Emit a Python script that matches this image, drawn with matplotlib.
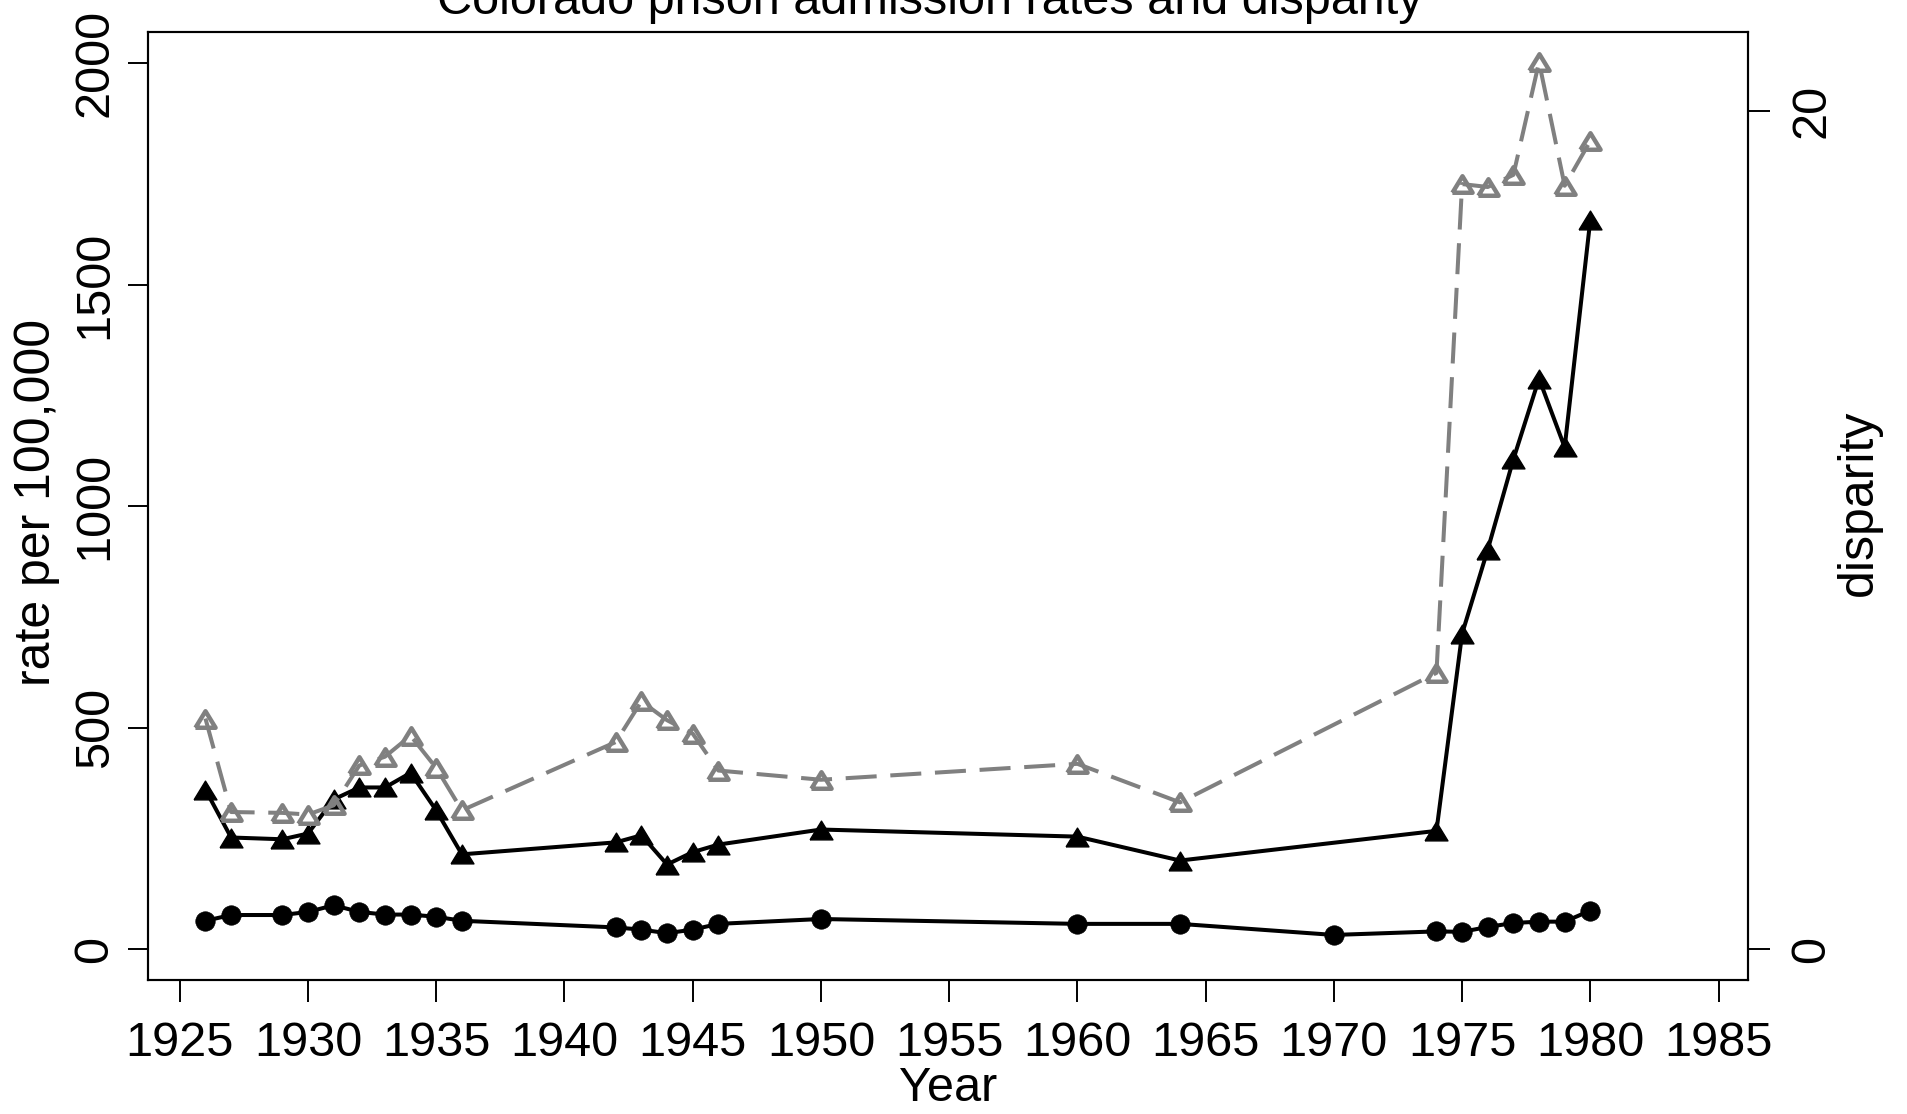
import matplotlib
matplotlib.use("Agg")
import matplotlib.pyplot as plt

plt.rcParams['font.family'] = ['Liberation Sans', 'DejaVu Sans']

# ---- data ----
years_white = [1926, 1927, 1929, 1930, 1931, 1932, 1933, 1934, 1935, 1936,
               1942, 1943, 1944, 1945, 1946, 1950, 1960, 1964, 1970,
               1974, 1975, 1976, 1977, 1978, 1979, 1980]
white_rate = [64, 77, 77, 84, 99, 84, 78, 78, 73, 64,
              49, 44, 36, 44, 57, 68, 57, 57, 32,
              40, 39, 50, 59, 62, 62, 87]

years_black = [1926, 1927, 1929, 1930, 1931, 1932, 1933, 1934, 1935, 1936,
               1942, 1943, 1944, 1945, 1946, 1950, 1960, 1964,
               1974, 1975, 1976, 1977, 1978, 1979, 1980]
black_rate = [360, 252, 248, 261, 338, 365, 365, 398, 313, 214,
              241, 257, 191, 219, 236, 270, 254, 200,
              267, 712, 902, 1106, 1288, 1133, 1647]
disparity = [5.50, 3.27, 3.25, 3.21, 3.43, 4.38, 4.59, 5.09, 4.32, 3.31,
             4.94, 5.91, 5.46, 5.14, 4.26, 4.04, 4.42, 3.50,
             6.59, 18.25, 18.18, 18.47, 21.16, 18.21, 19.28]

x_ticks = list(range(1925, 1990, 5))
rate_ticks = [0, 500, 1000, 1500, 2000]
disp_ticks = [0, 20]

title = "Colorado prison admission rates and disparity"
xlabel = "Year"
ylabel_left = "rate per 100,000"
ylabel_right = "disparity"

# ---- figure ----
W, H = 1908, 1114
fig = plt.figure(figsize=(W / 100, H / 100), dpi=100)
ax = fig.add_axes([148 / W, (H - 979.5) / H, (1747.8 - 148) / W, (979.5 - 31.6) / H])
ax2 = ax.twinx()

tri = [(-1, -0.82), (1, -0.82), (0, 0.82), (-1, -0.82)]
grey = "#808080"
lw = 2.9

ax.plot(years_white, white_rate, color="black", lw=lw, marker="o", ms=14,
        mfc="black", mec="black", mew=0.5, solid_joinstyle="round", zorder=3)
ax.plot(years_black, black_rate, color="black", lw=lw, marker=tri, ms=16.5,
        mfc="black", mec="black", mew=1.0, solid_joinstyle="round", zorder=3)
ax2.plot(years_black, disparity, color=grey, lw=lw, ls=(0, (7.7, 3.4)),
         marker=tri, ms=14.5, mfc="none", mec=grey, mew=3.2, zorder=3)

ax.set_xlim(1923.76, 1986.14)
ax.set_ylim(-68.6, 2071.6)
ax2.set_ylim(-0.725, 21.887)

ax.set_xticks(x_ticks)
ax.set_xticklabels([str(t) for t in x_ticks])
ax.set_yticks(rate_ticks)
ax.set_yticklabels([str(t) for t in rate_ticks])
ax2.set_yticks(disp_ticks)
ax2.set_yticklabels([str(t) for t in disp_ticks])

for a in (ax, ax2):
    for s in a.spines.values():
        s.set_linewidth(1.5)

ax.tick_params(axis="x", direction="out", length=15.8, width=1.4, pad=14, labelsize=35)
ax.tick_params(axis="y", direction="out", length=14.4, width=1.4, pad=7.5,
               labelsize=35, labelrotation=90)
ax2.tick_params(axis="y", direction="out", length=15.8, width=1.4, pad=14,
                labelsize=35, labelrotation=90)
for lab in ax.get_yticklabels():
    lab.set_va("center")
for lab in ax2.get_yticklabels():
    lab.set_va("center")

ax.set_xlabel(xlabel, fontsize=35)
ax.xaxis.set_label_coords(0.5, -0.0913)
ax.set_ylabel(ylabel_left, fontsize=36)
ax.yaxis.set_label_coords(-0.0548, 0.503)
ax2.set_ylabel(ylabel_right, fontsize=36)
ax2.yaxis.set_label_coords(1.0551, 0.503)

fig.text(930 / W, 1 - 14 / H, title, fontsize=35, ha="center", va="baseline")

fig.savefig("out.png", dpi=100)
